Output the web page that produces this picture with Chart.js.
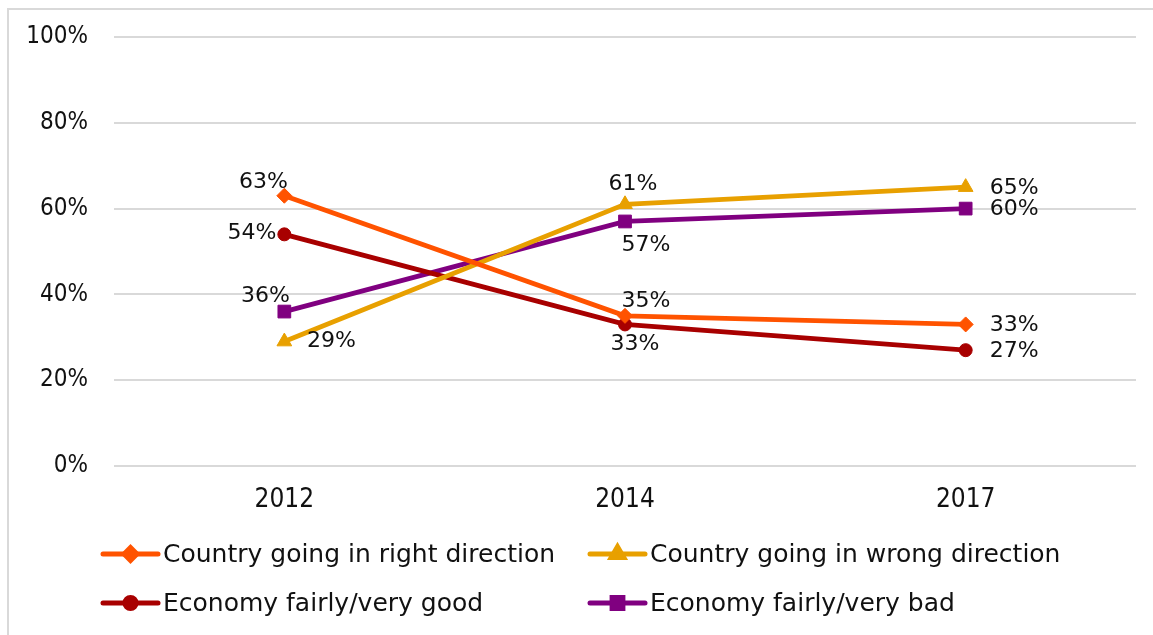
<!DOCTYPE html>
<html>
<head>
<meta charset="utf-8">
<script src="https://cdn.jsdelivr.net/npm/chart.js@4/dist/chart.umd.min.js"></script>
<style>
  html, body { margin: 0; padding: 0; background: #fff; }
  #wrap { width: 1153px; height: 635px; }
</style>
</head>
<body>
<div id="wrap"><canvas id="c1" width="1153" height="635"></canvas></div>
<script>
// survey years and percentages
const years = ['2012', '2014', '2017'];
const rightDirection = [63, 35, 33];
const wrongDirection = [29, 61, 65];
const economyGood = [54, 33, 27];
const economyBad = [36, 57, 60];
const yTicks = [0, 20, 40, 60, 80, 100];

const FONT = '"DejaVu Sans", sans-serif';
const NARROW = '"DejaVu Sans Condensed", "Liberation Sans Narrow", sans-serif';
const TEXT = '#111';

// where each value label sits relative to its point (dx, dy, align)
const labelPlace = [
  [[-21, -13, 'center'], [21, -15, 'center'], [24, 1, 'left']],
  [[47, 0, 'center'], [8, -20, 'center'], [24, 1, 'left']],
  [[-8, -1, 'right'], [10, 20, 'center'], [24, 1, 'left']],
  [[-19, -15, 'center'], [21, 24, 'center'], [24, 1, 'left']]
];

function series(label, data, color, style, radius) {
  return {
    label: label,
    data: data,
    borderColor: color,
    backgroundColor: color,
    borderWidth: 4.8,
    pointStyle: style,
    pointRadius: radius,
    pointHoverRadius: radius,
    pointBorderWidth: 1,
    tension: 0,
    fill: false
  };
}

// value labels next to each point
const valueLabels = {
  id: 'valueLabels',
  afterDatasetsDraw(chart) {
    const ctx = chart.ctx;
    ctx.save();
    ctx.font = '22px ' + FONT;
    ctx.fillStyle = TEXT;
    ctx.textBaseline = 'middle';
    chart.data.datasets.forEach((ds, i) => {
      chart.getDatasetMeta(i).data.forEach((pt, j) => {
        const p = labelPlace[i][j];
        ctx.textAlign = p[2];
        ctx.fillText(ds.data[j] + '%', pt.x + p[0], pt.y + p[1]);
      });
    });
    ctx.restore();
  }
};

// outer frame and a two-column legend under the axis
const frameAndLegend = {
  id: 'frameAndLegend',
  beforeDraw(chart) {
    const ctx = chart.ctx;
    ctx.save();
    ctx.fillStyle = '#fff';
    ctx.fillRect(0, 0, chart.width, chart.height);
    ctx.strokeStyle = '#d9d9d9';
    ctx.lineWidth = 2;
    ctx.strokeRect(8, 9, 1300, 800);
    ctx.restore();
  },
  afterDraw(chart) {
    const ctx = chart.ctx;
    const cols = [103, 590];
    const rows = [554, 603];
    ctx.save();
    ctx.font = '25px ' + FONT;
    ctx.textBaseline = 'middle';
    ctx.textAlign = 'left';
    chart.data.datasets.forEach((ds, i) => {
      const x = cols[i % 2];
      const y = rows[Math.floor(i / 2)];
      ctx.strokeStyle = ds.borderColor;
      ctx.lineWidth = 5;
      ctx.lineCap = 'round';
      ctx.beginPath();
      ctx.moveTo(x, y);
      ctx.lineTo(x + 55, y);
      ctx.stroke();
      ctx.fillStyle = ds.backgroundColor;
      Chart.helpers.drawPoint(ctx, {
        pointStyle: ds.pointStyle,
        radius: ds.pointRadius * 0.85,
        borderWidth: 1,
        rotation: 0
      }, x + 27.5, y);
      ctx.fillStyle = TEXT;
      ctx.fillText(ds.label, x + 60, y + 1);
    });
    ctx.restore();
  }
};

const ctx = document.getElementById('c1').getContext('2d');

const myChart = new Chart(ctx, {
  type: 'line',
  data: {
    labels: years,
    datasets: [
      series('Country going in right direction', rightDirection, '#FF5300', 'rectRot', 7.5),
      series('Country going in wrong direction', wrongDirection, '#E8A000', 'triangle', 8.5),
      series('Economy fairly/very good', economyGood, '#A80000', 'circle', 6.5),
      series('Economy fairly/very bad', economyBad, '#800080', 'rect', 9)
    ]
  },
  options: {
    responsive: false,
    animation: false,
    layout: { padding: { left: 14, right: 17, top: 37, bottom: 0 } },
    plugins: {
      legend: { display: false },
      tooltip: { enabled: false }
    },
    scales: {
      x: {
        offset: true,
        grid: { display: false },
        border: { display: false },
        ticks: { color: TEXT, font: { family: NARROW, size: 26 }, padding: 11 },
        afterFit: (s) => { s.height = 169; }
      },
      y: {
        min: 0,
        max: 100,
        afterBuildTicks: (s) => { s.ticks = yTicks.map(v => ({ value: v })); },
        grid: { color: '#d9d9d9', lineWidth: 2, drawTicks: false },
        border: { display: false },
        ticks: {
          color: TEXT,
          font: { family: NARROW, size: 24 },
          padding: 26,
          callback: (v) => v + '%'
        },
        afterFit: (s) => {
          s.width = 100;
          s.paddingTop = 0;
          s.paddingBottom = 0;
        }
      }
    }
  },
  plugins: [valueLabels, frameAndLegend]
});
</script>
</body>
</html>
